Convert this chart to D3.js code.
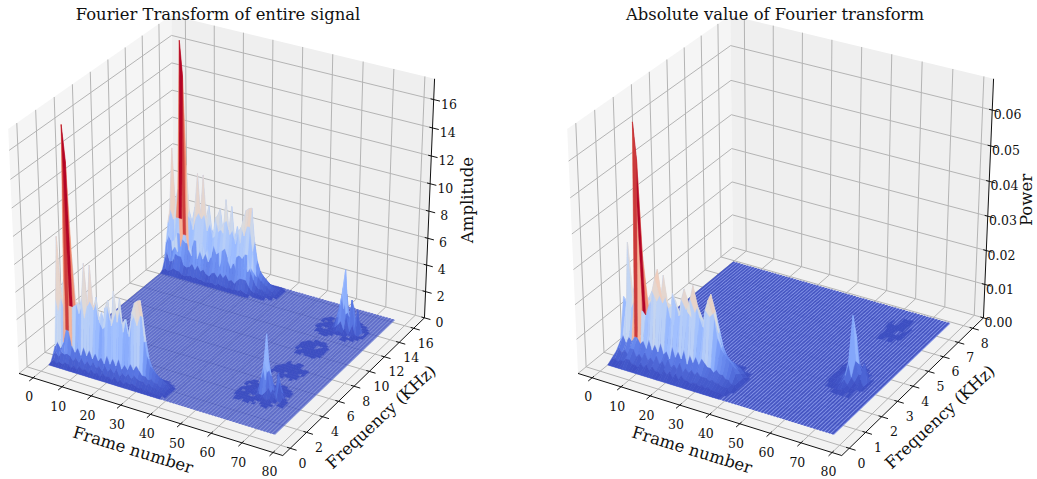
<!DOCTYPE html>
<html>
<head>
<meta charset="utf-8">
<script src="https://cdn.jsdelivr.net/npm/d3@7"></script>
<style>
  body { margin: 0; background: #fff; }
  text { font-family: "DejaVu Serif", serif; fill: #111; }
</style>
</head>
<body>
<div id="chart"></div>
<script>
// tick labels
const frameTicks = [0, 10, 20, 30, 40, 50, 60, 70, 80];
const ampFreqTicks = [0, 2, 4, 6, 8, 10, 12, 14, 16];
const powFreqTicks = [0, 1, 2, 3, 4, 5, 6, 7, 8];
const ampTicks = [0, 2, 4, 6, 8, 10, 12, 14, 16];
const powTicks = [0, 0.01, 0.02, 0.03, 0.04, 0.05, 0.06];

// amplitude ridge, one list per frequency bin, frames 0..39
const ampRow1 = [.1,.3,.1,.3,.2,.4,.3,.1,.3,.1,.4,.2,.3,.1,.4,.2,.3,.1,.4,.2,.3,.1,.4,.1,.3,.1,.3,.2,.3,.2,.1,.2,.1,.2,.1,.1,.1,.1,.1,0];
const ampRow2 = [.5,.8,.5,.9,.8,.9,.8,.5,.8,.5,.9,.5,.8,.5,.9,.5,.7,.4,.9,.5,.8,.5,.9,.4,.7,.5,.8,.5,.8,.6,.5,.5,.3,.5,.3,.3,.2,.2,.1,0];
const ampRow3 = [1,1.4,1,1.5,2.5,2.5,1.4,1,1.4,.9,1.6,1,1.5,.9,1.4,.9,1.2,.8,1.5,.9,1.4,.9,1.5,.8,1.2,.9,1.4,1,1.4,1.1,.8,.8,.6,.7,.5,.5,.3,.3,.2,0];
const ampRow4 = [4.4,9,5,6,17,14.5,8,4.6,3.8,5,7.6,4.6,7.6,4.4,5.4,3.6,3.2,4.8,5.4,3.6,6.2,4,5.8,3.4,4.4,3.2,5,5.8,6,6.1,3.6,2.2,1.5,1.2,1,.8,.6,.4,.2,0];
const ampRow5 = [3.4,4.5,3.8,4,4,4,4.2,4.4,4.2,3.4,4.4,4.8,4.4,4.8,3.6,4.2,3.2,4.8,3.8,4,4.6,4.8,3.8,4.2,3.2,4.2,4.6,4,4.8,4.8,3,1.8,1.2,.9,.7,.6,.4,.3,.1,0];
const ampRow6 = [2,2.6,2.2,2.4,3,3,2.6,2.4,2.4,2,2.8,2.8,2.6,2.8,2,2.4,1.8,2.8,2.2,2.4,2.6,2.8,2.2,2.4,1.8,2.4,2.6,2.4,2.8,2.8,1.6,1,.6,.4,.4,.3,.2,.1,.1,0];
const ampRow7 = [.7,1.5,.8,.9,1.5,1.4,1.4,.8,.7,.8,1.1,.7,1.1,.7,.9,.6,.5,.8,.9,.6,1,.7,1,.6,.7,.5,.8,1,1,1,.6,.3,.2,.2,.1,.1,.1,0,0,0];
const ampRow8 = [.15,.3,.2,.3,.5,.4,.4,.2,.15,.2,.3,.2,.3,.2,.2,.1,.1,.2,.2,.1,.3,.2,.2,.1,.2,.1,.2,.2,.3,.2,.1,.1,0,0,0,0,0,0,0,0];

// power ridge
const powRow1 = [.001,.001,.0005,.001,.001,.002,.002,.001,.001,.0005,.002,.001,.002,.0005,.002,.001,.001,.0005,.002,.001,.002,.0005,.002,.0005,.002,.001,.001,.0005,.001,.001,.0005,.001,.0005,.001,.0005,.0005,.0005,.0005,0,0];
const powRow2 = [.002,.003,.002,.003,.002,.004,.004,.002,.003,.002,.004,.002,.003,.002,.004,.002,.003,.0015,.004,.002,.003,.002,.004,.0015,.003,.002,.003,.002,.003,.002,.002,.002,.0015,.002,.0015,.0015,.001,.001,.001,0];
const powRow3 = [.004,.006,.004,.006,.005,.0065,.0065,.005,.006,.004,.007,.004,.006,.004,.007,.004,.005,.003,.007,.004,.006,.004,.007,.003,.006,.004,.006,.004,.006,.005,.004,.004,.003,.004,.003,.003,.002,.002,.001,.001];
const powRow4 = [.016,.015,.032,.017,.02,.066,.056,.03,.0166,.018,.02,.024,.0267,.019,.0255,.018,.014,.021,.019,.015,.02,.0233,.017,.021,.025,.02,.0165,.014,.019,.022,.024,.018,.012,.009,.008,.007,.006,.005,.003,.001];
const powRow5 = [.012,.012,.014,.012,.012,.012,.011,.014,.016,.012,.016,.018,.016,.018,.015,.016,.011,.016,.014,.016,.016,.018,.014,.016,.018,.016,.014,.012,.016,.017,.018,.012,.008,.006,.005,.005,.004,.003,.002,.001];
const powRow6 = [.007,.008,.009,.008,.008,.008,.007,.008,.01,.007,.01,.011,.01,.011,.009,.01,.007,.01,.008,.01,.01,.011,.008,.01,.011,.01,.008,.007,.01,.011,.011,.007,.005,.004,.003,.003,.002,.002,.001,0];
const powRow7 = [.002,.002,.004,.002,.003,.003,.003,.002,.002,.002,.003,.003,.004,.002,.003,.002,.002,.003,.002,.002,.003,.003,.002,.003,.003,.003,.002,.002,.002,.003,.003,.002,.001,.001,.001,.001,0,0,0,0];

// small spectral patches: one string per frequency bin, one digit per frame, digit = level
const ampLevels = [0, .05, .2, .45, .8, 1.25, 1.8, 2.45, 3.2, 4.4];
const powLevels = [0, .0002, .0009, .002, .0037, .0058, .0083, .0113, .0147, .0186];
const ampPatchA = ["..11.1.11.11.....",".11.111.1.1111...",".1111111.1111.11.","111.1.1112121.111","1.111.12234321.11","11.1122576231521.",".11112369632631.1","1.11.1247521421.1","11.1111253211.11.",".111.1.1221.1111.","..11.11.1.1111...","....111.1.11....."];
const ampPatchB = ["...11.1.1..",".1.111.11..","11.1.11111.",".1111.111.1","111.1111.11",".11111.1111","1.111111.1.","..11.111.1.","...1.11.1.."];
const ampPatchC = ["..1.111.1..",".111.1111..","1.1111.111.","11.111111.1",".1111.1111.","111.11.111.",".11111.11..","..1.1111...","...11.1...."];
const ampPatchD = ["...11.1.1.11.....","..1.111.1.1111...",".1111.11.1.1.11..","1.1.11112131.2111","111.1123425241.11",".11112468537261.1","1.111247953634.11","11.1.12574231.11.",".111.1232111.11..","..1.111.11.111...","....1.11..11....."];
const powPatchA = ["...1.1..1.1......",".1..1.11.1.1.1...","..1.1.1112.11.1..",".1.1111232111.1..","1.1112235321311..","..1112359532511..",".1.1112474231.1..","..11.1.1321.1....","...1.1.1.1.1.....","......1..1......."];
const powPatchB = ["..11.11.1",".11.111.1","1.111.111",".111.1.11","11.1111.1",".1.111.1.","...1.11.."];

const colours = ["#3b4cc0","#5977e3","#7b9ff9","#9ebeff","#c0d4f5","#dddcdc","#f2cbb7","#f7ac8e","#ee8468","#d65244","#b40426"];

const width = 1037, height = 479;
const svg = d3.select("#chart").append("svg")
    .attr("width", width)
    .attr("height", height);

// mplot3d view, elev 30 azim -60 dist 10
const elev = 30 * Math.PI / 180, azim = -60 * Math.PI / 180, dist = 10;
const n = [Math.cos(elev) * Math.cos(azim), Math.cos(elev) * Math.sin(azim), Math.sin(elev)];
const u = [-Math.sin(azim), Math.cos(azim), 0];
const v = [n[1] * u[2] - n[2] * u[1], n[2] * u[0] - n[0] * u[2], n[0] * u[1] - n[1] * u[0]];
const side = 0.5208;   // pane half width in unit box
const zSquash = 0.965;
const screenX = d3.scaleLinear().domain([0, 1]).range([225, 225 + 2923]);
const screenY = d3.scaleLinear().domain([0, 1]).range([223, 223 - 2780]);

function project(a, b, c) {
  const d = dist - (n[0] * a + n[1] * b + n[2] * c);
  const px = (u[0] * a + u[1] * b) / d, py = (v[0] * a + v[1] * b + v[2] * c) / d;
  return [screenX(px), screenY(py), d];
}

function buildGrid(rows, nRows, mirror, patches, levels) {
  const grid = d3.range(nRows).map(() => d3.range(77).map(() => 0));
  rows.forEach(function(r, i) {
    r.forEach(function(val, f) {
      grid[i + 1][f] = val;
      if (mirror) grid[nRows - 2 - i][f] = val;
    });
  });
  patches.forEach(function(p) {
    p.rows.forEach(function(s, i) {
      s.split("").forEach(function(c, j) {
        if (c !== ".") grid[p.row + i][p.frame + j] = Math.max(grid[p.row + i][p.frame + j], levels[+c]);
      });
    });
  });
  return grid;
}

function drawPanel(cfg) {
  const g = svg.append("g").attr("transform", "translate(" + cfg.dx + ",0)");
  const xn = d3.scaleLinear().domain([-4.9, 83.1]).range([-side, side]);
  const yn = d3.scaleLinear().domain(cfg.yDomain).range([-side, side]);
  const zn = d3.scaleLinear().domain(cfg.zDomain).range([-side, -side + 2 * side * zSquash]);
  const top = zn.range()[1];
  const p3 = (a, b, c) => project(a, b, c);
  const pts = list => list.map(p => { const q = p3(p[0], p[1], p[2]); return q[0].toFixed(2) + "," + q[1].toFixed(2); }).join(" ");

  // panes
  const panes = [
    {fill: "#f5f5f5", c: [[-side,-side,-side],[-side,side,-side],[-side,side,top],[-side,-side,top]]},
    {fill: "#efefef", c: [[-side,side,-side],[side,side,-side],[side,side,top],[-side,side,top]]},
    {fill: "#f2f2f2", c: [[-side,-side,-side],[side,-side,-side],[side,side,-side],[-side,side,-side]]}
  ];
  g.selectAll(".pane").data(panes).enter().append("polygon")
    .attr("class", "pane")
    .attr("points", d => pts(d.c))
    .style("fill", d => d.fill);

  // grid lines
  const gridLines = [];
  frameTicks.forEach(t => gridLines.push([[xn(t),-side,-side],[xn(t),side,-side],[xn(t),side,top]]));
  cfg.yTicks.forEach(t => gridLines.push([[side,yn(t),-side],[-side,yn(t),-side],[-side,yn(t),top]]));
  cfg.zTicks.forEach(t => gridLines.push([[-side,-side,zn(t)],[-side,side,zn(t)],[side,side,zn(t)]]));
  g.selectAll(".grid").data(gridLines).enter().append("polyline")
    .attr("class", "grid")
    .attr("points", d => pts(d))
    .style("fill", "none")
    .style("stroke", "#b4b4b4")
    .style("stroke-width", 1);

  // axis lines
  const axisLines = [
    [[-side,-side,-side],[side,-side,-side]],
    [[side,-side,-side],[side,side,-side]],
    [[side,side,-side],[side,side,top]]
  ];
  g.selectAll(".axisline").data(axisLines).enter().append("polyline")
    .attr("class", "axisline")
    .attr("points", d => pts(d))
    .style("stroke", "#111")
    .style("stroke-width", 1);

  // surface cells, flat ones go in their own see-through layer
  const grid = cfg.grid;
  const raised = [], flat = [];
  let vmax = 0;
  for (let k = 0; k < grid.length - 1; k++) {
    for (let f = 0; f < 76; f++) {
      const a = grid[k][f], b = grid[k][f + 1], c = grid[k + 1][f + 1], e = grid[k + 1][f];
      const avg = (a + b + c + e) / 4;
      const y0 = cfg.yStart + k * 0.25, y1 = y0 + 0.25;
      if (avg > cfg.flatBelow) {
        const corners = [[xn(f),yn(y0),zn(a)],[xn(f+1),yn(y0),zn(b)],[xn(f+1),yn(y1),zn(c)],[xn(f),yn(y1),zn(e)]];
        const depth = d3.mean(corners, p => p3(p[0], p[1], p[2])[2]);
        if (avg > vmax) vmax = avg;
        raised.push({corners: corners, avg: avg, depth: depth});
      } else {
        const f1 = f + cfg.colWidth, y2 = y1 + 0.02;
        flat.push([[xn(f),yn(y0),zn(0)],[xn(f1),yn(y0),zn(0)],[xn(f1),yn(y2),zn(0)],[xn(f),yn(y2),zn(0)]]);
      }
    }
  }
  raised.sort((p, q) => q.depth - p.depth);
  const colorScale = d3.scaleLinear()
    .domain(colours.map((c, i) => i / 10 * vmax))
    .range(colours);

  const yEnd = cfg.yStart + (grid.length - 1) * 0.25;
  const flatLayer = g.append("g").attr("class", "plate").style("opacity", cfg.plateOpacity);
  flatLayer.append("polygon")
    .attr("points", pts([[xn(0),yn(cfg.yStart),zn(0)],[xn(76),yn(cfg.yStart),zn(0)],[xn(76),yn(yEnd),zn(0)],[xn(0),yn(yEnd),zn(0)]]))
    .style("fill", cfg.plateFill);
  flatLayer.selectAll(".cell").data(flat).enter().append("polygon")
    .attr("class", "cell")
    .attr("points", d => pts(d))
    .style("fill", colours[0]);
  g.append("g")
    .attr("class", "surface")
    .selectAll("polygon").data(raised).enter().append("polygon")
    .attr("points", d => pts(d.corners))
    .style("fill", d => colorScale(d.avg))
    .style("stroke", d => colorScale(d.avg))
    .style("stroke-width", 0.4);

  // ticks and tick labels
  function tickSet(list, fmt, a0, a1, dxLab, dyLab, cls) {
    g.selectAll(".tick" + cls).data(list).enter().append("line")
      .attr("class", "tick" + cls)
      .attr("x1", d => p3.apply(null, a0(d))[0])
      .attr("y1", d => p3.apply(null, a0(d))[1])
      .attr("x2", d => p3.apply(null, a1(d))[0])
      .attr("y2", d => p3.apply(null, a1(d))[1])
      .style("stroke", "#111")
      .style("stroke-width", 1);
    g.selectAll(".label" + cls).data(list).enter().append("text")
      .attr("class", "label" + cls)
      .attr("x", d => p3.apply(null, a1(d))[0] + dxLab)
      .attr("y", d => p3.apply(null, a1(d))[1] + dyLab)
      .attr("text-anchor", "middle")
      .attr("dominant-baseline", "central")
      .style("font-size", "12.5px")
      .text(fmt);
  }
  const inn = 0.012, out = 0.024;
  tickSet(frameTicks, d => d, d => [xn(d), -side + inn, -side], d => [xn(d), -side - out, -side], 0, 16, "x");
  tickSet(cfg.yTicks, d => d, d => [side - inn, yn(d), -side], d => [side + out, yn(d), -side], 6, 13, "y");
  tickSet(cfg.zTicks, cfg.zFormat, d => [side - inn, side, zn(d)], d => [side + out, side, zn(d)], cfg.zLabelDx, 3, "z");

  // axis titles
  g.append("text")
    .attr("x", cfg.titleX).attr("y", 14)
    .attr("text-anchor", "middle").attr("dominant-baseline", "central")
    .style("font-size", "16.4px")
    .text(cfg.title);
  g.append("text")
    .attr("text-anchor", "middle").attr("dominant-baseline", "central")
    .attr("transform", "translate(133,450) rotate(17)")
    .style("font-size", "16.5px")
    .text("Frame number");
  g.append("text")
    .attr("text-anchor", "middle").attr("dominant-baseline", "central")
    .attr("transform", "translate(381,417) rotate(-43)")
    .style("font-size", "16.5px")
    .text("Frequency (KHz)");
  g.append("text")
    .attr("text-anchor", "middle").attr("dominant-baseline", "central")
    .attr("transform", "translate(" + cfg.zTitleX + ",200) rotate(-90)")
    .style("font-size", "16.5px")
    .text(cfg.zTitle);
}

const ampRows = [ampRow1, ampRow2, ampRow3, ampRow4, ampRow5, ampRow6, ampRow7, ampRow8];
const powRows = [powRow1, powRow2, powRow3, powRow4, powRow5, powRow6, powRow7];

drawPanel({
  dx: 0,
  title: "Fourier Transform of entire signal", titleX: 218,
  zTitle: "Amplitude", zTitleX: 467,
  yDomain: [-0.9, 17.5], zDomain: [0, 17.45], yStart: 0.85,
  yTicks: ampFreqTicks, zTicks: ampTicks, zFormat: d => d, zLabelDx: 9,
  colWidth: 0.62, plateFill: "#6a7bd2", plateOpacity: 0.8, flatBelow: 0.03,
  grid: buildGrid(ampRows, 63, true, [
    {frame: 55, row: 9, rows: ampPatchA},
    {frame: 58, row: 23, rows: ampPatchB},
    {frame: 58, row: 35, rows: ampPatchC},
    {frame: 57, row: 46, rows: ampPatchD}
  ], ampLevels)
});

drawPanel({
  dx: 559,
  title: "Absolute value of Fourier transform", titleX: 216,
  zTitle: "Power", zTitleX: 467,
  yDomain: [-0.45, 8.75], zDomain: [0, 0.0686], yStart: 0.42,
  yTicks: powFreqTicks, zTicks: powTicks, zFormat: d => d.toFixed(2), zLabelDx: 9,
  colWidth: 0.66, plateFill: "#7f90e8", plateOpacity: 0.93, flatBelow: 0.00012,
  grid: buildGrid(powRows, 31, false, [
    {frame: 58, row: 7, rows: powPatchA},
    {frame: 60, row: 22, rows: powPatchB}
  ], powLevels)
});
</script>
</body>
</html>
